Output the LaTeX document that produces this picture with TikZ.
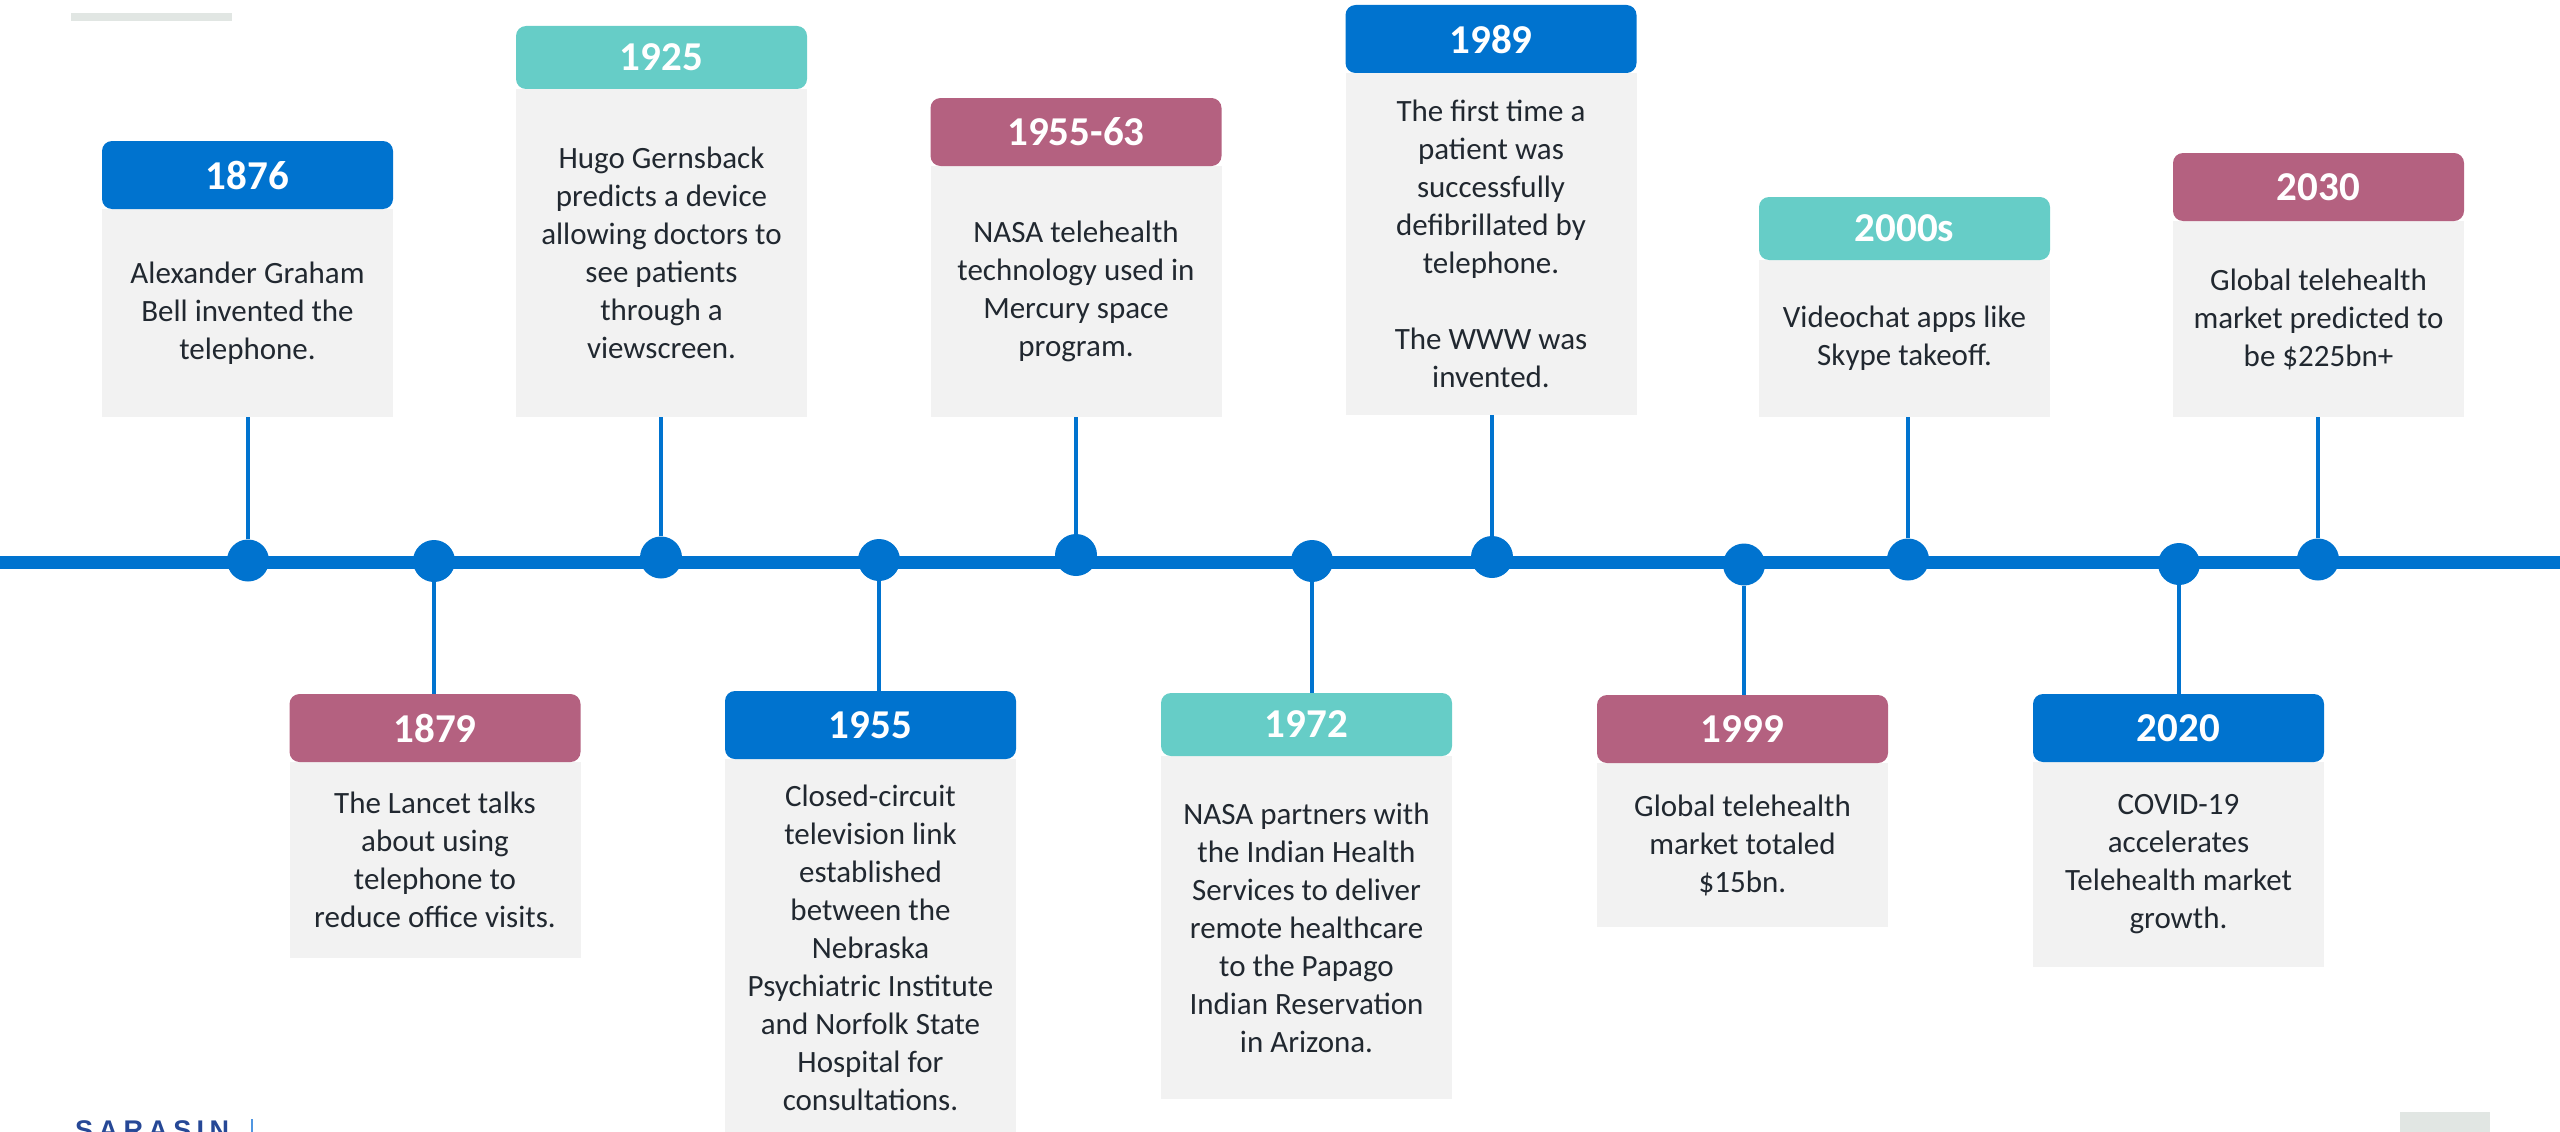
\documentclass[tikz,border=0pt]{standalone}
\usepackage{fontspec}
\setmainfont{Carlito}
\newfontfamily\logofont[LetterSpace=20]{Liberation Sans}
\usetikzlibrary{positioning}
\definecolor{tlblue}{RGB}{0,115,207}
\definecolor{tlteal}{RGB}{102,205,199}
\definecolor{tlmauve}{RGB}{180,97,128}
\definecolor{boxgray}{RGB}{242,242,242}
\definecolor{tltext}{RGB}{33,40,48}
\definecolor{decogray}{RGB}{225,230,227}
\definecolor{logoblue}{RGB}{38,72,150}
\definecolor{logobar}{RGB}{80,150,225}
\tikzset{
    yearblue/.style={
        rectangle,
        rounded corners=10pt,
        fill=tlblue,
        text=white,
        font=\fontsize{41}{48}\selectfont\bfseries,
        minimum width=291pt,
        minimum height=68pt,
        inner sep=0pt,
        outer sep=0pt
    },
    yearteal/.style={
        rectangle,
        rounded corners=10pt,
        fill=tlteal,
        text=white,
        font=\fontsize{41}{48}\selectfont\bfseries,
        minimum width=291pt,
        minimum height=63pt,
        inner sep=0pt,
        outer sep=0pt
    },
    yearmauve/.style={
        rectangle,
        rounded corners=10pt,
        fill=tlmauve,
        text=white,
        font=\fontsize{41}{48}\selectfont\bfseries,
        minimum width=291pt,
        minimum height=68pt,
        inner sep=0pt,
        outer sep=0pt
    },
    infobox/.style={
        rectangle,
        fill=boxgray,
        text=tltext,
        font=\fontsize{31}{38}\selectfont,
        align=center,
        anchor=north,
        minimum width=291pt,
        inner sep=0pt,
        outer sep=0pt
    },
    tldot/.style={
        circle,
        fill=tlblue,
        minimum size=42pt,
        inner sep=0pt
    },
    stemline/.style={
        draw=tlblue,
        line width=4.5pt
    },
    timeline/.style={
        draw=tlblue,
        line width=12.5pt
    },
    logo/.style={
        anchor=north west,
        inner sep=0pt,
        text=logoblue,
        font=\logofont\bfseries\fontsize{27}{27}\selectfont
    }
}

\begin{document}
\begin{tikzpicture}[x=1pt,y=-1pt,node distance=0pt]
    \path[use as bounding box,clip] (0,0) rectangle (2560,1132);
    \fill[decogray] (71,13) rectangle (232,21);
    \fill[decogray] (2400,1112) rectangle (2490,1140);
    \node [logo] (logo) at (75,1120) {SARASIN};
    \draw[logobar,line width=1.5pt] (252,1119) -- (252,1140);

    % the line
    \coordinate (tstart) at (0,562.5);
    \coordinate (tend) at (2560,562.5);
    \draw[timeline] (tstart) -- (tend);

    % above
    \node [infobox,minimum height=208pt] (b1876) at (247.5,209) {Alexander Graham\\Bell invented the\\telephone.};
    \node [yearblue] (y1876) [above=of b1876] {1876};
    \node [tldot] (d1876) at (248,560.5) {}
        edge[stemline] (d1876 |- b1876.south);

    \node [infobox,minimum height=328pt] (b1925) at (661.5,89) {Hugo Gernsback\\predicts a device\\allowing doctors to\\see patients\\through a\\viewscreen.};
    \node [yearteal] (y1925) [above=of b1925] {1925};
    \node [tldot] (d1925) at (661,557.5) {}
        edge[stemline] (d1925 |- b1925.south);

    \node [infobox,minimum height=251pt] (b1955to63) at (1076,166) {NASA telehealth\\technology used in\\Mercury space\\program.};
    \node [yearmauve] (y1955to63) [above=of b1955to63] {1955-63};
    \node [tldot] (d1955to63) at (1076,555) {}
        edge[stemline] (d1955to63 |- b1955to63.south);

    \node [infobox,minimum height=342pt] (b1989) at (1491,73) {The first time a\\patient was\\successfully\\defibrillated by\\telephone.\\[38pt]The WWW was\\invented.};
    \node [yearblue] (y1989) [above=of b1989] {1989};
    \node [tldot] (d1989) at (1492,557) {}
        edge[stemline] (d1989 |- b1989.south);

    \node [infobox,minimum height=157pt] (b2000s) at (1904.5,260) {Videochat apps like\\Skype takeoff.};
    \node [yearteal] (y2000s) [above=of b2000s] {2000s};
    \node [tldot] (d2000s) at (1908,559.5) {}
        edge[stemline] (d2000s |- b2000s.south);

    \node [infobox,minimum height=196pt] (b2030) at (2318.5,221) {Global telehealth\\market predicted to\\be \$225bn+};
    \node [yearmauve] (y2030) [above=of b2030] {2030};
    \node [tldot] (d2030) at (2318,559.5) {}
        edge[stemline] (d2030 |- b2030.south);

    % below
    \node [infobox,minimum height=196pt] (b1879) at (435,762) {The Lancet talks\\about using\\telephone to\\reduce office visits.};
    \node [yearmauve] (y1879) [above=of b1879] {1879};
    \node [tldot] (d1879) at (434,561) {}
        edge[stemline] (d1879 |- y1879.north);

    \node [infobox,minimum height=378pt] (b1955) at (870.5,759) {Closed-circuit\\television link\\established\\between the\\Nebraska\\Psychiatric Institute\\and Norfolk State\\Hospital for\\consultations.};
    \node [yearblue] (y1955) [above=of b1955] {1955};
    \node [tldot] (d1955) at (879,560) {}
        edge[stemline] (d1955 |- y1955.north);

    \node [infobox,minimum height=343pt] (b1972) at (1306.5,756) {NASA partners with\\the Indian Health\\Services to deliver\\remote healthcare\\to the Papago\\Indian Reservation\\in Arizona.};
    \node [yearteal] (y1972) [above=of b1972] {1972};
    \node [tldot] (d1972) at (1312,561) {}
        edge[stemline] (d1972 |- y1972.north);

    \node [infobox,minimum height=164pt] (b1999) at (1742.5,763) {Global telehealth\\market totaled\\\$15bn.};
    \node [yearmauve] (y1999) [above=of b1999] {1999};
    \node [tldot] (d1999) at (1744,564.5) {}
        edge[stemline] (d1999 |- y1999.north);

    \node [infobox,minimum height=205pt] (b2020) at (2178.5,762) {COVID-19\\accelerates\\Telehealth market\\growth.};
    \node [yearblue] (y2020) [above=of b2020] {2020};
    \node [tldot] (d2020) at (2179,564) {}
        edge[stemline] (d2020 |- y2020.north);
\end{tikzpicture}
\end{document}
